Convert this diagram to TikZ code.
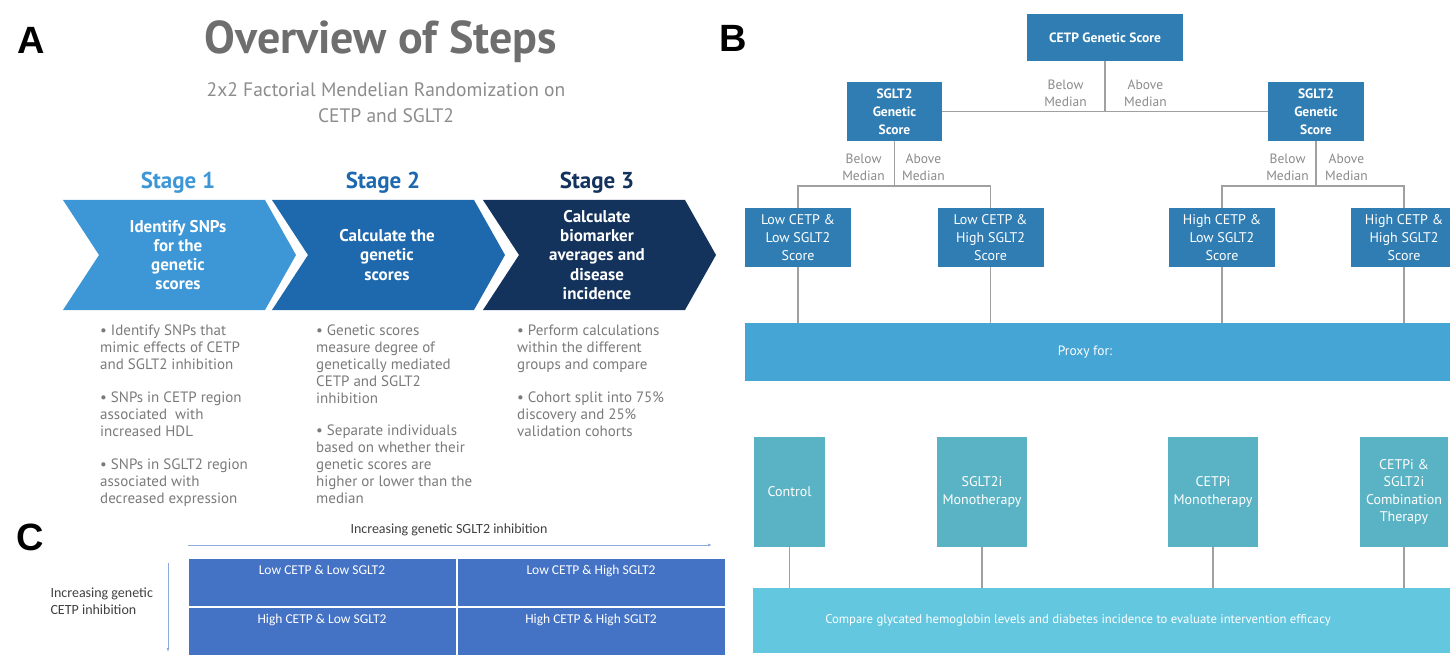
\documentclass[tikz,border=0pt]{standalone}
\usepackage{fontspec}
\setmainfont{PT Sans}
\newfontfamily\calfont{Carlito}
\newfontfamily\arialfont{Liberation Sans}
\usetikzlibrary{arrows.meta}

\definecolor{stageone}{HTML}{3D97D6}
\definecolor{stagetwo}{HTML}{1E68AE}
\definecolor{stagethree}{HTML}{13325C}
\definecolor{titlegrey}{HTML}{6E6E6E}
\definecolor{subgrey}{HTML}{8C8C8C}
\definecolor{bodygrey}{HTML}{7A7A7A}
\definecolor{cellblue}{HTML}{4472C4}
\definecolor{axisblue}{HTML}{8FAADC}
\definecolor{scoreblue}{HTML}{2F7DB3}
\definecolor{proxyblue}{HTML}{45A5D5}
\definecolor{armteal}{HTML}{5AB3C4}
\definecolor{comparecyan}{HTML}{62C7DF}
\definecolor{edgegrey}{HTML}{A0A0A0}
\definecolor{mediangrey}{HTML}{8A8A8A}

\pgfdeclarelayer{background}
\pgfsetlayers{background,main}
\tikzstyle{panel letter}=[font=\arialfont\bfseries\fontsize{38}{38}\selectfont, inner sep=0pt]
\tikzstyle{stage label}=[font=\bfseries\fontsize{23}{23}\selectfont]
\tikzstyle{chev text}=[white, font=\bfseries\fontsize{17}{19.3}\selectfont, align=center]
\tikzstyle{bullets}=[text=bodygrey, font=\fontsize{15}{17}\selectfont, align=left, anchor=north west, inner sep=0pt]
\tikzstyle{score box}=[fill=scoreblue, text=white, font=\bfseries\fontsize{13.5}{18}\selectfont, align=center, inner sep=0pt]
\tikzstyle{arm box}=[fill=armteal, text=white, font=\fontsize{14}{17.5}\selectfont, align=center, inner sep=0pt, minimum height=110pt]
\tikzstyle{median}=[text=mediangrey, font=\fontsize{13.5}{17}\selectfont, align=center, inner sep=0pt]
\tikzstyle{cell}=[fill=cellblue, draw=white, line width=2pt, minimum width=269pt, minimum height=49pt, inner sep=0pt]
\tikzstyle{axis}=[draw=axisblue, line width=1pt, -{Latex[length=4pt,width=3pt]}]
\tikzstyle{edge} = [draw,line width=1.2pt,-,edgegrey]

\begin{document}
\begin{tikzpicture}[x=1pt, y=-1pt]
    \useasboundingbox (0,0) rectangle (1450,663);

    % panel A
    \node[panel letter] (letA) at (31,40) {A};
    \node[text=titlegrey, font=\bfseries\fontsize{46}{46}\selectfont] (title) at (381,42) {Overview of Steps};
    \node[text=subgrey, font=\fontsize{19.5}{26}\selectfont, align=center] (subtitle) at (386,103)
        {2x2 Factorial Mendelian Randomization on\\CETP and SGLT2};

    \foreach \l/\c in {63/stageone, 272/stagetwo, 483/stagethree}
        \fill[\c] (\l,200) -- (\l+202,200) -- (\l+233,255) -- (\l+202,310) -- (\l,310) -- (\l+36,255) -- cycle;

    \foreach \pos/\name/\c/\txt in {{(178,183)/stgA/stageone/Stage 1}, {(383,183)/stgB/stagetwo/Stage 2},
                                    {(597,183)/stgC/stagethree/Stage 3}}
        \node[stage label, text=\c] (\name) at \pos {\txt};

    \node[chev text] (chevA) at (178,255) {Identify SNPs\\for the\\genetic\\scores};
    \node[chev text] (chevB) at (387,255) {Calculate the\\genetic\\scores};
    \node[chev text] (chevC) at (597,255) {Calculate\\biomarker\\averages and\\disease\\incidence};

    \node[bullets] (bulA1) at (100,325) {• Identify SNPs that\\mimic effects of CETP\\and SGLT2 inhibition};
    \node[bullets] (bulA2) at (100,392) {• SNPs in CETP region\\associated\ \ with\\increased HDL};
    \node[bullets] (bulA3) at (100,459) {• SNPs in SGLT2 region\\associated with\\decreased expression};
    \node[bullets] (bulB1) at (316,325) {• Genetic scores\\measure degree of\\genetically mediated\\CETP and SGLT2\\inhibition};
    \node[bullets] (bulB2) at (316,425) {• Separate individuals\\based on whether their\\genetic scores are\\higher or lower than the\\median};
    \node[bullets] (bulC1) at (517,325) {• Perform calculations\\within the different\\groups and compare};
    \node[bullets] (bulC2) at (517,392) {• Cohort split into 75\%\\discovery and 25\%\\validation cohorts};

    % panel C
    \node[panel letter] (letC) at (30,537) {C};
    \node[font=\calfont\fontsize{14}{14}\selectfont, text=black!75] (sgltaxis) at (449,530) {Increasing genetic SGLT2 inhibition};
    \node[font=\calfont\fontsize{14}{17}\selectfont, text=black!75, align=left, anchor=west] (cetpaxis) at (47,601)
        {Increasing genetic\\CETP inhibition};
    \coordinate (hstart) at (188,545);
    \coordinate (hend) at (712,545);
    \coordinate (vstart) at (168,563);
    \coordinate (vend) at (168,652);
    \path[axis] (hstart) -- (hend);
    \path[axis] (vstart) -- (vend);
    \foreach \pos/\name/\txt in {{(322,582)/cellLL/Low CETP \& Low SGLT2}, {(591,582)/cellLH/Low CETP \& High SGLT2},
                                 {(322,631)/cellHL/High CETP \& Low SGLT2}, {(591,631)/cellHH/High CETP \& High SGLT2}}
        \node[cell, label={[anchor=north, yshift=-5pt, text=white, font=\calfont\fontsize{13.5}{13.5}\selectfont]north:\txt}] (\name) at \pos {};

    % panel B
    \node[panel letter] (letB) at (733,38) {B};
    \node[score box, minimum width=156pt, minimum height=47pt] (cetp) at (1105,37.5) {CETP Genetic Score};
    \node[score box, minimum width=95pt, minimum height=59pt] (sgltL) at (894.5,111.5) {SGLT2\\Genetic\\Score};
    \node[score box, minimum width=96pt, minimum height=59pt] (sgltR) at (1316,111.5) {SGLT2\\Genetic\\Score};
    \foreach \pos/\name/\txt in {{(798,237.5)/lowlow/Low CETP \&\\Low SGLT2\\Score}, {(990.5,237.5)/lowhigh/Low CETP \&\\High SGLT2\\Score},
                                 {(1222,237.5)/highlow/High CETP \&\\Low SGLT2\\Score}, {(1404,237.5)/highhigh/High CETP \&\\High SGLT2\\Score}}
        \node[score box, font=\fontsize{14}{18}\selectfont, minimum width=106pt, minimum height=59pt] (\name) at \pos {\txt};

    \node[median, anchor=east] (belowT) at (1087,93.5) {Below\\Median};
    \node[median, anchor=west] (aboveT) at (1124,93.5) {Above\\Median};
    \node[median, anchor=east] (belowL) at (885,167.5) {Below\\Median};
    \node[median, anchor=west] (aboveL) at (902,167.5) {Above\\Median};
    \node[median, anchor=east] (belowR) at (1309,167.5) {Below\\Median};
    \node[median, anchor=west] (aboveR) at (1325,167.5) {Above\\Median};

    \node[fill=proxyblue, minimum width=705pt, minimum height=58pt] (proxy) at (1097.5,352) {};
    \node[text=white, font=\fontsize{13.5}{13.5}\selectfont] (proxytxt) at (1085,352) {Proxy for:};

    \node[arm box, minimum width=71pt] (control) at (789.5,492) {Control};
    \node[arm box, minimum width=90pt] (sglti) at (982,492) {SGLT2i\\Monotherapy};
    \node[arm box, minimum width=90pt] (cetpi) at (1213,492) {CETPi\\Monotherapy};
    \node[arm box, minimum width=88pt] (combo) at (1404,492) {CETPi \&\\SGLT2i\\Combination\\Therapy};

    \node[fill=comparecyan, minimum width=697pt, minimum height=65pt] (compare) at (1101.5,620) {};
    \node[text=white, font=\fontsize{12.7}{12.7}\selectfont] (comparetxt) at (1078,620)
        {Compare glycated hemoglobin levels and diabetes incidence to evaluate intervention efficacy};

    \coordinate (splitL) at (894.5,186);
    \coordinate (splitR) at (1316,186);

    \begin{pgfonlayer}{background}
        \path[edge] (cetp) -- (cetp |- sgltL);
        \path[edge] (sgltL) -- (sgltR);
        \path[edge] (sgltL) -- (splitL);
        \path[edge] (sgltR) -- (splitR);
        \path[edge] (lowlow) |- (splitL) -| (lowhigh);
        \path[edge] (highlow) |- (splitR) -| (highhigh);
        \foreach \n in {lowlow, lowhigh, highlow, highhigh}
            \path[edge] (\n) -- (\n |- proxy);
        \foreach \n in {control, sglti, cetpi, combo}
            \path[edge] (\n) -- (\n |- compare);
    \end{pgfonlayer}
\end{tikzpicture}
\end{document}
